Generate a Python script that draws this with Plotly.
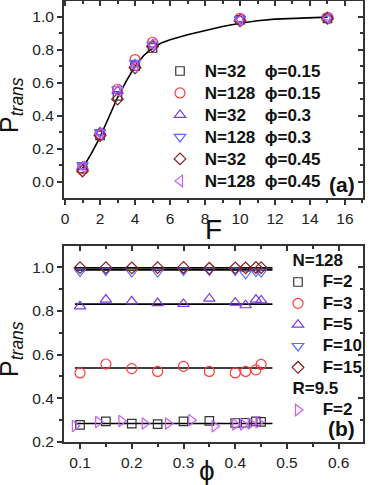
import plotly.graph_objects as go

# ---------------- data: panel (a) ----------------
F_vals = [1, 2, 3, 4, 5, 10, 15]
p_n32_phi015 = [0.08, 0.28, 0.52, 0.70, 0.81, 0.98, 0.99]
p_n128_phi015 = [0.08, 0.29, 0.56, 0.74, 0.845, 0.99, 0.995]
p_n32_phi03 = [0.09, 0.30, 0.55, 0.71, 0.83, 0.985, 0.995]
p_n128_phi03 = [0.10, 0.30, 0.56, 0.72, 0.83, 0.985, 0.99]
p_n32_phi045 = [0.065, 0.28, 0.50, 0.69, 0.82, 0.975, 0.99]
p_n128_phi045 = [0.09, 0.29, 0.55, 0.70, 0.835, 0.98, 0.99]

fit_F = [1, 1.5, 2, 2.5, 3, 3.5, 4, 4.5, 5, 5.5, 6, 7, 8, 9, 10, 11, 12, 13, 14, 15]
fit_P = [0.08, 0.17, 0.27, 0.39, 0.51, 0.61, 0.70, 0.765, 0.81, 0.84, 0.86, 0.89,
         0.915, 0.94, 0.96, 0.975, 0.985, 0.99, 0.995, 0.997]

# ---------------- data: panel (b) ----------------
phi_vals = [0.1, 0.15, 0.2, 0.25, 0.3, 0.35, 0.4, 0.42, 0.44, 0.45]
p_F2 = [0.278, 0.294, 0.284, 0.282, 0.294, 0.297, 0.287, 0.288, 0.294, 0.292]
p_F3 = [0.516, 0.557, 0.536, 0.523, 0.546, 0.523, 0.516, 0.523, 0.530, 0.555]
p_F5 = [0.821, 0.852, 0.844, 0.836, 0.832, 0.856, 0.838, 0.826, 0.852, 0.848]
p_F10 = [0.98, 0.985, 0.978, 0.978, 0.985, 0.985, 0.985, 0.97, 0.98, 0.978]
p_F15 = [0.998, 0.998, 0.997, 0.998, 0.999, 0.995, 0.997, 0.997, 0.999, 0.998]

phi_R95 = [0.09, 0.135, 0.18, 0.225, 0.27, 0.315, 0.36, 0.40, 0.415, 0.43, 0.445]
p_R95_F2 = [0.273, 0.291, 0.296, 0.285, 0.285, 0.30, 0.272, 0.28, 0.28, 0.285, 0.29]

line_phi = [0.09, 0.472]
level_F2 = 0.285
level_F3 = 0.539
level_F5 = 0.831
level_F10 = 0.988
level_F15 = 0.997

# ---------------- styles ----------------
FONT = "Liberation Sans, Arial, sans-serif"
C_SQ = "#333333"
C_CI = "#ff3b3b"
C_TU = "#7a3be6"
C_TD = "#5a6cff"
C_DI = "#8b1a1a"
C_TL = "#c95cf2"
PHI = "\u03d5"
NB = "\u00a0"

def big(t, size=17):
    return '<span style="font-size:%dpx">%s</span>' % (size, t)

fig = go.Figure()

top_series = [
    (NB + "N=32" + NB * 4 + PHI + "=0.15", p_n32_phi015, "square-open", C_SQ, 8.5),
    (NB + "N=128" + NB * 2 + PHI + "=0.15", p_n128_phi015, "circle-open", C_CI, 10),
    (NB + "N=32" + NB * 4 + PHI + "=0.3", p_n32_phi03, "triangle-up-open", C_TU, 10),
    (NB + "N=128" + NB * 2 + PHI + "=0.3", p_n128_phi03, "triangle-down-open", C_TD, 10),
    (NB + "N=32" + NB * 4 + PHI + "=0.45", p_n32_phi045, "diamond-open", C_DI, 9),
    (NB + "N=128" + NB * 2 + PHI + "=0.45", p_n128_phi045, "triangle-left-open", C_TL, 10),
]

fig.add_trace(go.Scatter(x=fit_F, y=fit_P, mode="lines", line=dict(color="black", width=1.6),
                         showlegend=False, xaxis="x", yaxis="y", hoverinfo="skip"))
for name, vals, sym, col, sz in top_series:
    fig.add_trace(go.Scatter(x=F_vals, y=vals, mode="markers", name=big(name),
                             marker=dict(symbol=sym, size=sz, color=col, line=dict(color=col, width=1.2)),
                             xaxis="x", yaxis="y", legend="legend"))

# bottom panel lines
for lv in [level_F2, level_F3, level_F5, level_F10, level_F15]:
    fig.add_trace(go.Scatter(x=line_phi, y=[lv, lv], mode="lines",
                             line=dict(color="black", width=1.6), showlegend=False,
                             xaxis="x2", yaxis="y2", hoverinfo="skip"))

bot_series = [
    ("F=2", p_F2, "square-open", C_SQ, 8.5),
    ("F=3", p_F3, "circle-open", C_CI, 10),
    ("F=5", p_F5, "triangle-up-open", C_TU, 10),
    ("F=10", p_F10, "triangle-down-open", C_TD, 10),
    ("F=15", p_F15, "diamond-open", C_DI, 9),
]
for i, (name, vals, sym, col, sz) in enumerate(bot_series):
    fig.add_trace(go.Scatter(x=phi_vals, y=vals, mode="markers", name=big(NB + name),
                             marker=dict(symbol=sym, size=sz, color=col, line=dict(color=col, width=1.2)),
                             xaxis="x2", yaxis="y2", legend="legend2",
                             legendgroup="n128",
                             legendgrouptitle=dict(text=big(NB * 2 + "N=128")) if i == 0 else None))
fig.add_trace(go.Scatter(x=phi_R95, y=p_R95_F2, mode="markers", name=big(NB + "F=2"),
                         marker=dict(symbol="triangle-right-open", size=10, color=C_TL,
                                     line=dict(color=C_TL, width=1.2)),
                         xaxis="x2", yaxis="y2", legend="legend2",
                         legendgroup="r95", legendgrouptitle=dict(text=big(NB * 2 + "R=9.5"))))

# invisible traces to register mirror axes
for xa, ya in [("x3", "y"), ("x", "y3"), ("x4", "y2"), ("x2", "y4")]:
    fig.add_trace(go.Scatter(x=[], y=[], xaxis=xa, yaxis=ya, showlegend=False, hoverinfo="skip"))

AX_COL = "#333333"
TICKFONT = dict(family=FONT, size=15.5, color="#222222")

def base_axis(**kw):
    d = dict(showgrid=False, zeroline=False, showline=True, linewidth=2, linecolor=AX_COL,
             ticks="outside", ticklen=5, tickwidth=1.5, tickcolor=AX_COL,
             tickfont=TICKFONT, mirror=True)
    d.update(kw)
    return d

def mirror_axis(**kw):
    d = dict(showgrid=False, zeroline=False, showline=False, ticks="inside", ticklen=5,
             tickwidth=1.5, tickcolor=AX_COL, showticklabels=False)
    d.update(kw)
    return d

x1_range = [-0.06, 17.03]
y1_range = [-0.099, 1.095]
x2_range = [0.069, 0.647]
y2_range = [0.2, 1.097]

top_dom = [0.5533, 1.0]
bot_dom = [0.0, 0.4444]

def px_x(px):
    return (px - 64) / 299

def px_y(py):
    return (442 - py) / 441

title_font = dict(family=FONT, size=28, color="#111111")
ylab_font = dict(family=FONT, size=25, color="#111111")
panel_font = dict(family=FONT, size=21, color="#111111", weight="bold")

fig.update_layout(
    width=374, height=485,
    margin=dict(l=64, r=11, t=1, b=43, autoexpand=False),
    paper_bgcolor="white", plot_bgcolor="white",
    font=dict(family=FONT, color="#222222"),
    xaxis=base_axis(domain=[0, 1], anchor="y", range=x1_range, tick0=0, dtick=2,
                    minor=dict(dtick=1, ticks="outside", ticklen=3, tickwidth=1.5, tickcolor=AX_COL)),
    yaxis=base_axis(domain=top_dom, anchor="x", range=y1_range, tick0=0, dtick=0.2,
                    tickformat=".1f",
                    minor=dict(dtick=0.1, ticks="outside", ticklen=3, tickwidth=1.5, tickcolor=AX_COL)),
    xaxis3=mirror_axis(overlaying="x", side="top", anchor="y", range=x1_range, tick0=0, dtick=2,
                       minor=dict(dtick=1, ticks="inside", ticklen=3, tickwidth=1.5, tickcolor=AX_COL)),
    yaxis3=mirror_axis(overlaying="y", side="right", anchor="x", range=y1_range, tick0=0, dtick=0.2,
                       minor=dict(dtick=0.1, ticks="inside", ticklen=3, tickwidth=1.5, tickcolor=AX_COL)),
    xaxis2=base_axis(domain=[0, 1], anchor="y2", range=x2_range, tick0=0, dtick=0.1,
                     tickformat=".1f",
                     minor=dict(dtick=0.05, ticks="outside", ticklen=3, tickwidth=1.5, tickcolor=AX_COL)),
    yaxis2=base_axis(domain=bot_dom, anchor="x2", range=y2_range, tick0=0, dtick=0.2,
                     tickformat=".1f",
                     minor=dict(dtick=0.1, ticks="outside", ticklen=3, tickwidth=1.5, tickcolor=AX_COL)),
    xaxis4=mirror_axis(overlaying="x2", side="top", anchor="y2", range=x2_range, tick0=0, dtick=0.1,
                       minor=dict(dtick=0.05, ticks="inside", ticklen=3, tickwidth=1.5, tickcolor=AX_COL)),
    yaxis4=mirror_axis(overlaying="y2", side="right", anchor="x2", range=y2_range, tick0=0, dtick=0.2,
                       minor=dict(dtick=0.1, ticks="inside", ticklen=3, tickwidth=1.5, tickcolor=AX_COL)),
    legend=dict(x=px_x(160), y=px_y(55), xanchor="left", yanchor="top",
                bgcolor="rgba(0,0,0,0)", borderwidth=0,
                font=dict(family=FONT, size=14.6, color="#111111", weight="bold"),
                tracegroupgap=0, itemsizing="trace"),
    legend2=dict(x=px_x(278), y=px_y(245), xanchor="left", yanchor="top",
                 bgcolor="rgba(0,0,0,0)", borderwidth=0,
                 font=dict(family=FONT, size=14.1, color="#111111", weight="bold"),
                 grouptitlefont=dict(family=FONT, size=14.1, color="#111111", weight="bold"),
                 tracegroupgap=0, traceorder="grouped", itemsizing="trace"),
    annotations=[
        dict(text="F", x=px_x(213), y=px_y(229), xref="paper", yref="paper",
             xanchor="center", yanchor="middle", showarrow=False, font=title_font),
        dict(text=PHI, x=px_x(207), y=px_y(471), xref="paper", yref="paper",
             xanchor="center", yanchor="middle", showarrow=False, font=title_font),
        dict(text="P<sub><i>trans</i></sub>", x=px_x(11), y=px_y(105), xref="paper", yref="paper",
             xanchor="center", yanchor="middle", showarrow=False, textangle=-90, font=ylab_font),
        dict(text="P<sub><i>trans</i></sub>", x=px_x(11), y=px_y(349), xref="paper", yref="paper",
             xanchor="center", yanchor="middle", showarrow=False, textangle=-90, font=ylab_font),
        dict(text="(a)", x=px_x(357), y=px_y(184), xref="paper", yref="paper",
             xanchor="right", yanchor="middle", showarrow=False, font=panel_font),
        dict(text="(b)", x=px_x(357), y=px_y(428), xref="paper", yref="paper",
             xanchor="right", yanchor="middle", showarrow=False, font=panel_font),
    ],
)

fig.write_html("out.html", config={"displayModeBar": False},
               post_script="document.body.style.margin='0';document.body.style.overflow='hidden';")
